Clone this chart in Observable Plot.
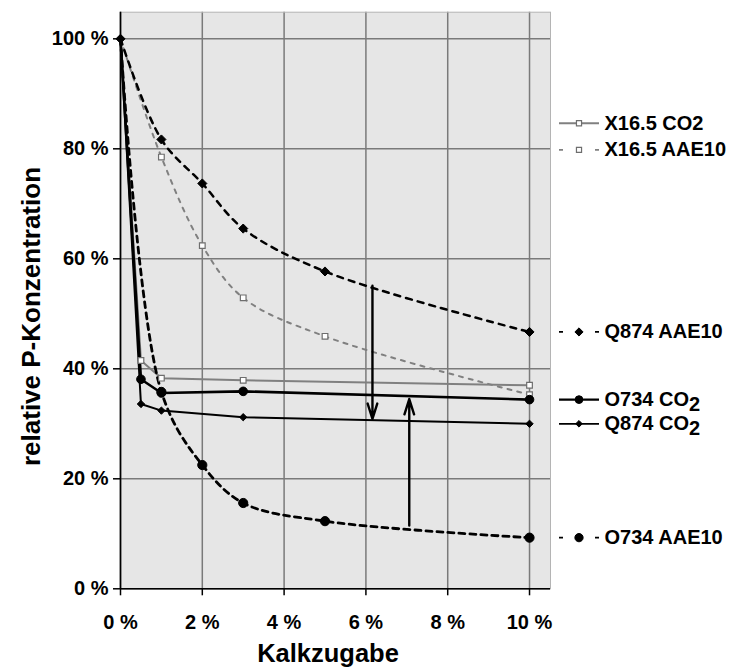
<!DOCTYPE html>
<html>
<head>
<meta charset="utf-8">
<script src="https://cdn.jsdelivr.net/npm/d3@7"></script>
<script src="https://cdn.jsdelivr.net/npm/@observablehq/plot@0.6"></script>
<style>
  html, body { margin: 0; padding: 0; background: #fff; }
</style>
</head>
<body>
<div id="chart"></div>
<script>
// ---------- data ----------
const xTicks = [0, 2, 4, 6, 8, 10];
const yTicks = [0, 20, 40, 60, 80, 100];

const seriesNames = ["X16.5 CO2", "X16.5 AAE10", "Q874 AAE10", "O734 CO2", "Q874 CO2", "O734 AAE10"];

const xX165CO2   = [0, 0.5, 1, 3, 10];
const yX165CO2   = [100, 41.5, 38.3, 37.9, 37.0];

const xX165AAE10 = [0, 1, 2, 3, 5, 10];
const yX165AAE10 = [100, 78.5, 62.4, 52.9, 45.9, 35.3];

const xQ874AAE10 = [0, 1, 2, 3, 5, 10];
const yQ874AAE10 = [100, 81.7, 73.7, 65.5, 57.7, 46.7];

const xO734CO2   = [0, 0.5, 1, 3, 10];
const yO734CO2   = [100, 38.1, 35.6, 35.9, 34.4];

const xQ874CO2   = [0, 0.5, 1, 3, 10];
const yQ874CO2   = [100, 33.6, 32.4, 31.2, 30.0];

const xO734AAE10 = [0, 1, 2, 3, 5, 10];
const yO734AAE10 = [100, 35.8, 22.5, 15.6, 12.3, 9.3];

const arrowX    = [6.16, 7.06];
const arrowFrom = [55.1, 11.5];
const arrowTo   = [30.9, 34.5];

const xTitle = "Kalkzugabe";
const yTitle = "relative P-Konzentration";

// ---------- build tables ----------
const seriesXY = {
  "X16.5 CO2":   [xX165CO2, yX165CO2],
  "X16.5 AAE10": [xX165AAE10, yX165AAE10],
  "Q874 AAE10":  [xQ874AAE10, yQ874AAE10],
  "O734 CO2":    [xO734CO2, yO734CO2],
  "Q874 CO2":    [xQ874CO2, yQ874CO2],
  "O734 AAE10":  [xO734AAE10, yO734AAE10]
};
const rows = name => seriesXY[name][0].map((x, i) => ({series: name, x, y: seriesXY[name][1][i]}));
const arrows = arrowX.map((x, i) => ({x, from: arrowFrom[i], to: arrowTo[i]}));

// ---------- styles ----------
const GRAY = "#808080";
const style = {
  "X16.5 CO2":   {stroke: GRAY, width: 2, dash: null, curve: "linear", symbol: "square", r: 3.2, fill: "white", mstroke: "#6e6e6e", msw: 1.2, key: null},
  "X16.5 AAE10": {stroke: GRAY, width: 2, dash: "4,6", curve: "catmull-rom", symbol: "square", r: 3.2, fill: "white", mstroke: "#6e6e6e", msw: 1.2, key: "4,14"},
  "Q874 AAE10":  {stroke: "black", width: 2.5, dash: "6,6", curve: "catmull-rom", symbol: "diamond2", r: 4.1, fill: "black", mstroke: "black", msw: 1, key: "4,14"},
  "O734 CO2":    {stroke: "black", width: 2.6, dash: null, curve: "linear", symbol: "circle", r: 4.3, fill: "black", mstroke: "black", msw: 1, key: null},
  "Q874 CO2":    {stroke: "black", width: 2, dash: null, curve: "linear", symbol: "diamond2", r: 3.3, fill: "black", mstroke: "black", msw: 1, key: null},
  "O734 AAE10":  {stroke: "black", width: 2.8, dash: "6,5", curve: "catmull-rom", symbol: "circle", r: 4.6, fill: "black", mstroke: "black", msw: 1, key: "4,14"}
};
// legend vertical placement (in y units): at series end, except the two X16.5 entries placed at the top
const legendYOverride = {"X16.5 CO2": 84.65, "X16.5 AAE10": 79.8};
const legendRows = seriesNames.map(name => {
  const ys = seriesXY[name][1];
  return {series: name, y: legendYOverride[name] ?? ys[ys.length - 1]};
});
// marker draw order: squares, circles, diamonds (diamond at 100 % on top)
const markerOrder = ["X16.5 CO2", "X16.5 AAE10", "O734 CO2", "O734 AAE10", "Q874 CO2", "Q874 AAE10"];

const keyLine = {draw(ctx) { ctx.moveTo(-20, 0); ctx.lineTo(20, 0); }};

const marks = [
  Plot.frame({fill: "#e6e6e6"}),
  Plot.gridX({ticks: xTicks, stroke: "#7a7a7a", strokeOpacity: 1, strokeWidth: 1.5}),
  Plot.gridY({ticks: yTicks, stroke: "#7a7a7a", strokeOpacity: 1, strokeWidth: 1.5}),
  Plot.frame({stroke: "#b4b4b4", strokeWidth: 1}),
  Plot.ruleX([0], {stroke: "black", strokeWidth: 1.6}),
  Plot.ruleY([0], {stroke: "black", strokeWidth: 1.6})
];

for (const name of seriesNames) {
  const s = style[name];
  marks.push(Plot.line(rows(name), {x: "x", y: "y", stroke: s.stroke, strokeWidth: s.width,
    strokeDasharray: s.dash ?? undefined, curve: s.curve}));
}

marks.push(Plot.arrow(arrows, {x1: "x", x2: "x", y1: "from", y2: "to", stroke: "black",
  strokeWidth: 2.4, headLength: 10, headAngle: 35}));

for (const name of markerOrder) {
  const s = style[name];
  const onlyInner = !name.startsWith("Q874");
  marks.push(Plot.dot(rows(name).filter(d => !(onlyInner && d.x === 0)), {x: "x", y: "y",
    symbol: s.symbol, r: s.r, fill: s.fill, stroke: s.mstroke, strokeWidth: s.msw}));
}

// legend (outside the frame, right side)
for (const name of seriesNames) {
  const s = style[name];
  const row = legendRows.filter(d => d.series === name);
  marks.push(Plot.dot(row, {y: "y", frameAnchor: "right", dx: 28.5, symbol: keyLine,
    stroke: s.stroke, strokeWidth: name === "O734 CO2" ? 2.4 : 1.8, strokeDasharray: s.key ?? undefined}));
  marks.push(Plot.dot(row, {y: "y", frameAnchor: "right", dx: 28.5, symbol: s.symbol,
    r: s.r * 0.9, fill: s.fill, stroke: s.mstroke, strokeWidth: s.msw}));
}
marks.push(Plot.text(legendRows, {y: "y", frameAnchor: "right", dx: 54, text: "series",
  textAnchor: "start", fontSize: 20, fontWeight: "bold", fill: "black"}));

// axes
marks.push(Plot.axisX({ticks: xTicks, tickFormat: d => d + " %", tickSize: 7, tickPadding: 19,
  label: null, stroke: "black", strokeWidth: 1.5}));
marks.push(Plot.axisY({ticks: yTicks, tickFormat: d => d + " %", tickSize: 7, tickPadding: 5,
  label: null, stroke: "black", strokeWidth: 1.5}));

// axis titles
marks.push(Plot.text([xTitle], {frameAnchor: "bottom", dx: -7.5, dy: 73, lineAnchor: "bottom",
  textAnchor: "middle", text: d => d, fontSize: 25.5, fontWeight: "bold"}));
marks.push(Plot.text([yTitle], {frameAnchor: "left", dx: -89, dy: 16, rotate: -90, textAnchor: "middle",
  lineAnchor: "middle", text: d => d, fontSize: 26, fontWeight: "bold"}));

const chart = Plot.plot({
  width: 733,
  height: 668,
  marginLeft: 120,
  marginRight: 183,
  marginTop: 11.7,
  marginBottom: 79.7,
  x: {domain: [0, 10.513]},
  y: {domain: [0, 104.84]},
  style: {fontFamily: "'Liberation Sans', Arial, sans-serif", fontSize: "20px", fontWeight: "bold", color: "black", background: "white"},
  marks
});

// subscript "2" in the CO2 legend entries of O734 and Q874
chart.querySelectorAll("text").forEach(t => {
  const s = t.textContent;
  if (s === "O734 CO2" || s === "Q874 CO2") {
    t.textContent = "";
    const a = document.createElementNS("http://www.w3.org/2000/svg", "tspan");
    a.textContent = s.slice(0, -1);
    const b = document.createElementNS("http://www.w3.org/2000/svg", "tspan");
    b.textContent = "2";
    b.setAttribute("dy", "5");
    t.appendChild(a); t.appendChild(b);
  }
});

document.getElementById("chart").appendChild(chart);
</script>
</body>
</html>
